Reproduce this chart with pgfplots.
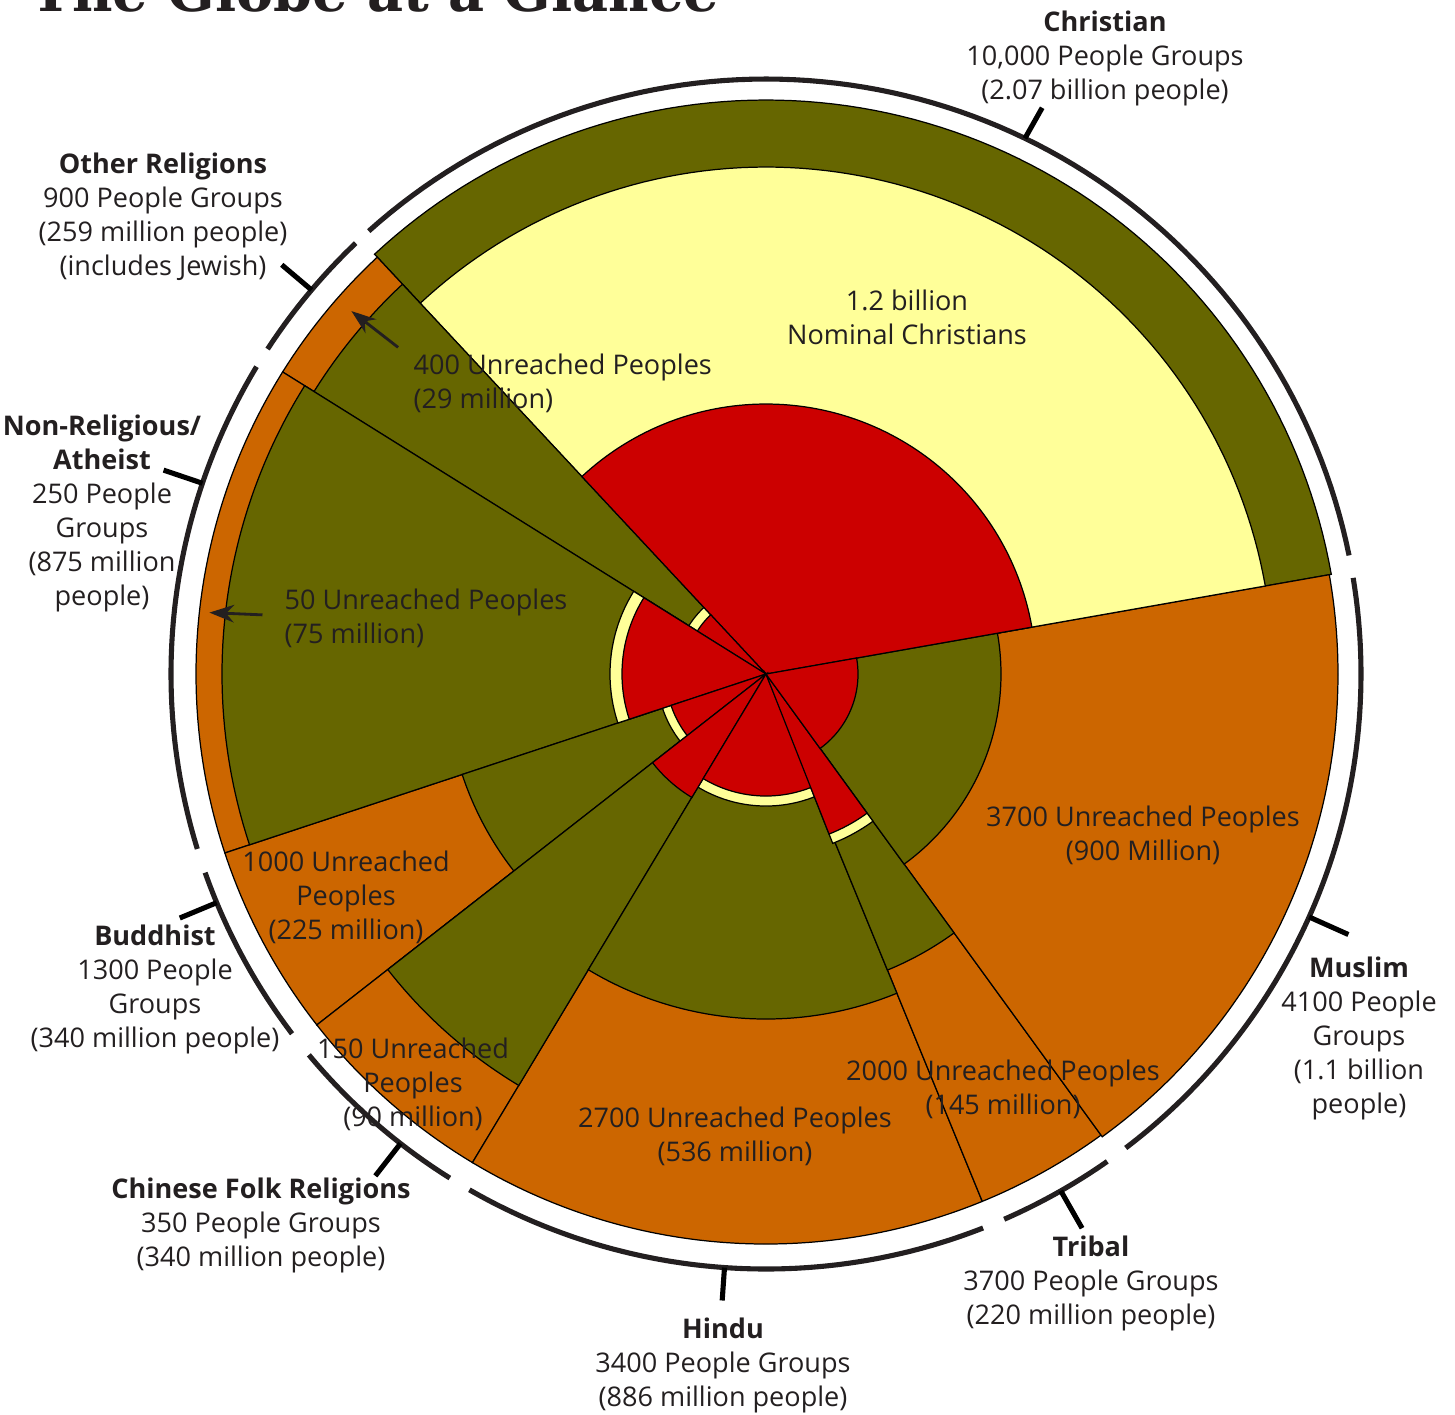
\documentclass[border=0pt]{standalone}
\usepackage{pgfplots}
\pgfplotsset{compat=1.18}
\usepgfplotslibrary{polar}
\usetikzlibrary{arrows.meta}
\usepackage{fontspec}
\setmainfont{Open Sans}
\newfontfamily\titlefont{DejaVu Serif}
\definecolor{olv}{HTML}{666600}
\definecolor{org}{HTML}{CC6600}
\definecolor{ylw}{HTML}{FFFF99}
\definecolor{rd}{HTML}{CC0000}
\definecolor{txt}{HTML}{231F20}
\newcommand{\lbl}[3]{\node[anchor=base, inner sep=0pt, text=txt] at ({#1/100},{-(#2+9.5)/100}) {#3};}
\newcommand{\lbll}[3]{\node[anchor=base west, inner sep=0pt, text=txt] at ({#1/100},{-(#2+9.5)/100}) {#3};}
\pgfplotsset{wedge/.style={draw=black, line width=0.35pt, samples=90},
  ring/.style={draw=txt, line width=1.45pt, samples=90},
  tick/.style={draw=black, line width=1.45pt}}
\begin{document}
\begin{tikzpicture}
\useasboundingbox (0,0) rectangle (14.55,-14.14);
\node[anchor=base west, inner sep=0pt, text=txt] at (0.30,-0.11) {\resizebox{6.88cm}{!}{\titlefont\bfseries The Globe at a Glance}};
\begin{polaraxis}[at={(7.66cm,-6.74cm)}, anchor=center, hide axis, scale only axis,
  width=14cm, height=14cm, ymin=0, ymax=700, clip=false]
% outer layer
\addplot[wedge, fill=olv, domain=10:133] {574} -- (axis cs:0,0) -- cycle;
\addplot[wedge, fill=org, domain=133:148] {570} -- (axis cs:0,0) -- cycle;
\addplot[wedge, fill=org, domain=148:198.3] {570} -- (axis cs:0,0) -- cycle;
\addplot[wedge, fill=org, domain=198.3:218] {570} -- (axis cs:0,0) -- cycle;
\addplot[wedge, fill=org, domain=218:239] {570} -- (axis cs:0,0) -- cycle;
\addplot[wedge, fill=org, domain=239:292.3] {570} -- (axis cs:0,0) -- cycle;
\addplot[wedge, fill=org, domain=292.3:306] {570} -- (axis cs:0,0) -- cycle;
\addplot[wedge, fill=org, domain=-54:10] {572} -- (axis cs:0,0) -- cycle;
% middle layer
\addplot[wedge, fill=ylw, domain=10:133] {507} -- (axis cs:0,0) -- cycle;
\addplot[wedge, fill=olv, domain=133:148] {533} -- (axis cs:0,0) -- cycle;
\addplot[wedge, fill=olv, domain=148:198.3] {544} -- (axis cs:0,0) -- cycle;
\addplot[wedge, fill=olv, domain=198.3:218] {320} -- (axis cs:0,0) -- cycle;
\addplot[wedge, fill=olv, domain=218:239] {480} -- (axis cs:0,0) -- cycle;
\addplot[wedge, fill=olv, domain=239:292.3] {345} -- (axis cs:0,0) -- cycle;
\addplot[wedge, fill=olv, domain=292.3:306] {320} -- (axis cs:0,0) -- cycle;
\addplot[wedge, fill=olv, domain=-54:10] {235} -- (axis cs:0,0) -- cycle;
% thin yellow layer
\addplot[wedge, fill=ylw, domain=133:148] {91} -- (axis cs:0,0) -- cycle;
\addplot[wedge, fill=ylw, domain=148:198.3] {156} -- (axis cs:0,0) -- cycle;
\addplot[wedge, fill=ylw, domain=198.3:218] {109} -- (axis cs:0,0) -- cycle;
\addplot[wedge, fill=ylw, domain=239:292.3] {132} -- (axis cs:0,0) -- cycle;
\addplot[wedge, fill=ylw, domain=291.5:306] {182} -- (axis cs:0,0) -- cycle;
% red layer
\addplot[wedge, fill=rd, domain=10:133] {270} -- (axis cs:0,0) -- cycle;
\addplot[wedge, fill=rd, domain=133:148] {81} -- (axis cs:0,0) -- cycle;
\addplot[wedge, fill=rd, domain=148:198.3] {144} -- (axis cs:0,0) -- cycle;
\addplot[wedge, fill=rd, domain=198.3:218] {100} -- (axis cs:0,0) -- cycle;
\addplot[wedge, fill=rd, domain=218:239] {144} -- (axis cs:0,0) -- cycle;
\addplot[wedge, fill=rd, domain=239:292.3] {122} -- (axis cs:0,0) -- cycle;
\addplot[wedge, fill=rd, domain=291.5:306] {172} -- (axis cs:0,0) -- cycle;
\addplot[wedge, fill=rd, domain=-54:10] {92} -- (axis cs:0,0) -- cycle;
% outer ring segments
\addplot[ring, domain=11.5:131.9] {595};
\addplot[ring, domain=133.6:146.9] {595};
\addplot[ring, domain=148.9:197.1] {595};
\addplot[ring, domain=199.5:217.2] {595};
\addplot[ring, domain=219.8:237.9] {595};
\addplot[ring, domain=240.1:291.4] {595};
\addplot[ring, domain=293.6:305.0] {595};
\addplot[ring, domain=-52.8:9.3] {595};
% ticks
\addplot[tick] coordinates {(64.2,595) (64.0,630)};
\addplot[tick] coordinates {(139.8,595) (139.8,634)};
\addplot[tick] coordinates {(161.3,595) (161.3,636)};
\addplot[tick] coordinates {(202.6,595) (202.6,635)};
\addplot[tick] coordinates {(232.1,595) (232.1,636)};
\addplot[tick] coordinates {(266.0,595) (266.0,628)};
\addplot[tick] coordinates {(299.7,595) (299.7,638)};
\addplot[tick] coordinates {(335.9,595) (335.9,638)};
% arrows
\addplot[txt, line width=0.8pt, -{Stealth[length=7pt,width=5pt]}] coordinates {(138.4,492) (138.8,551)};
\addplot[txt, line width=0.8pt, -{Stealth[length=7pt,width=5pt]}] coordinates {(173.3,507) (173.7,560)};
\end{polaraxis}
\begingroup
\fontsize{7.7pt}{9pt}\selectfont
% outer labels
\lbl{1105}{22}{\textbf{Christian}}
\lbl{1105}{56}{10,000 People Groups}
\lbl{1105}{90}{(2.07 billion people)}
\lbl{163}{164}{\textbf{Other Religions}}
\lbl{163}{198}{900 People Groups}
\lbl{163}{232}{(259 million people)}
\lbl{163}{266}{(includes Jewish)}
\lbl{102}{426}{\textbf{Non-Religious/}}
\lbl{102}{460}{\textbf{Atheist}}
\lbl{102}{494}{250 People}
\lbl{102}{528}{Groups}
\lbl{102}{562}{(875 million}
\lbl{102}{596}{people)}
\lbl{155}{936}{\textbf{Buddhist}}
\lbl{155}{970}{1300 People}
\lbl{155}{1004}{Groups}
\lbl{155}{1038}{(340 million people)}
\lbl{261}{1189}{\textbf{Chinese Folk Religions}}
\lbl{261}{1223}{350 People Groups}
\lbl{261}{1257}{(340 million people)}
\lbl{723}{1329}{\textbf{Hindu}}
\lbl{723}{1363}{3400 People Groups}
\lbl{723}{1397}{(886 million people)}
\lbl{1091}{1247}{\textbf{Tribal}}
\lbl{1091}{1281}{3700 People Groups}
\lbl{1091}{1315}{(220 million people)}
\lbl{1359}{968}{\textbf{Muslim}}
\lbl{1359}{1002}{4100 People}
\lbl{1359}{1036}{Groups}
\lbl{1359}{1070}{(1.1 billion}
\lbl{1359}{1104}{people)}
% inner labels
\lbl{907}{301}{1.2 billion}
\lbl{907}{335}{Nominal Christians}
\lbll{413}{365}{400 Unreached Peoples}
\lbll{413}{399}{(29 million)}
\lbll{284}{600}{50 Unreached Peoples}
\lbll{284}{634}{(75 million)}
\lbl{1143}{817}{3700 Unreached Peoples}
\lbl{1143}{851}{(900 Million)}
\lbl{346}{862}{1000 Unreached}
\lbl{346}{896}{Peoples}
\lbl{346}{930}{(225 million)}
\lbl{413}{1049}{150 Unreached}
\lbl{413}{1083}{Peoples}
\lbl{413}{1117}{(90 million)}
\lbl{1003}{1071}{2000 Unreached Peoples}
\lbl{1003}{1105}{(145 million)}
\lbl{735}{1118}{2700 Unreached Peoples}
\lbl{735}{1152}{(536 million)}
\endgroup
\end{tikzpicture}
\end{document}
